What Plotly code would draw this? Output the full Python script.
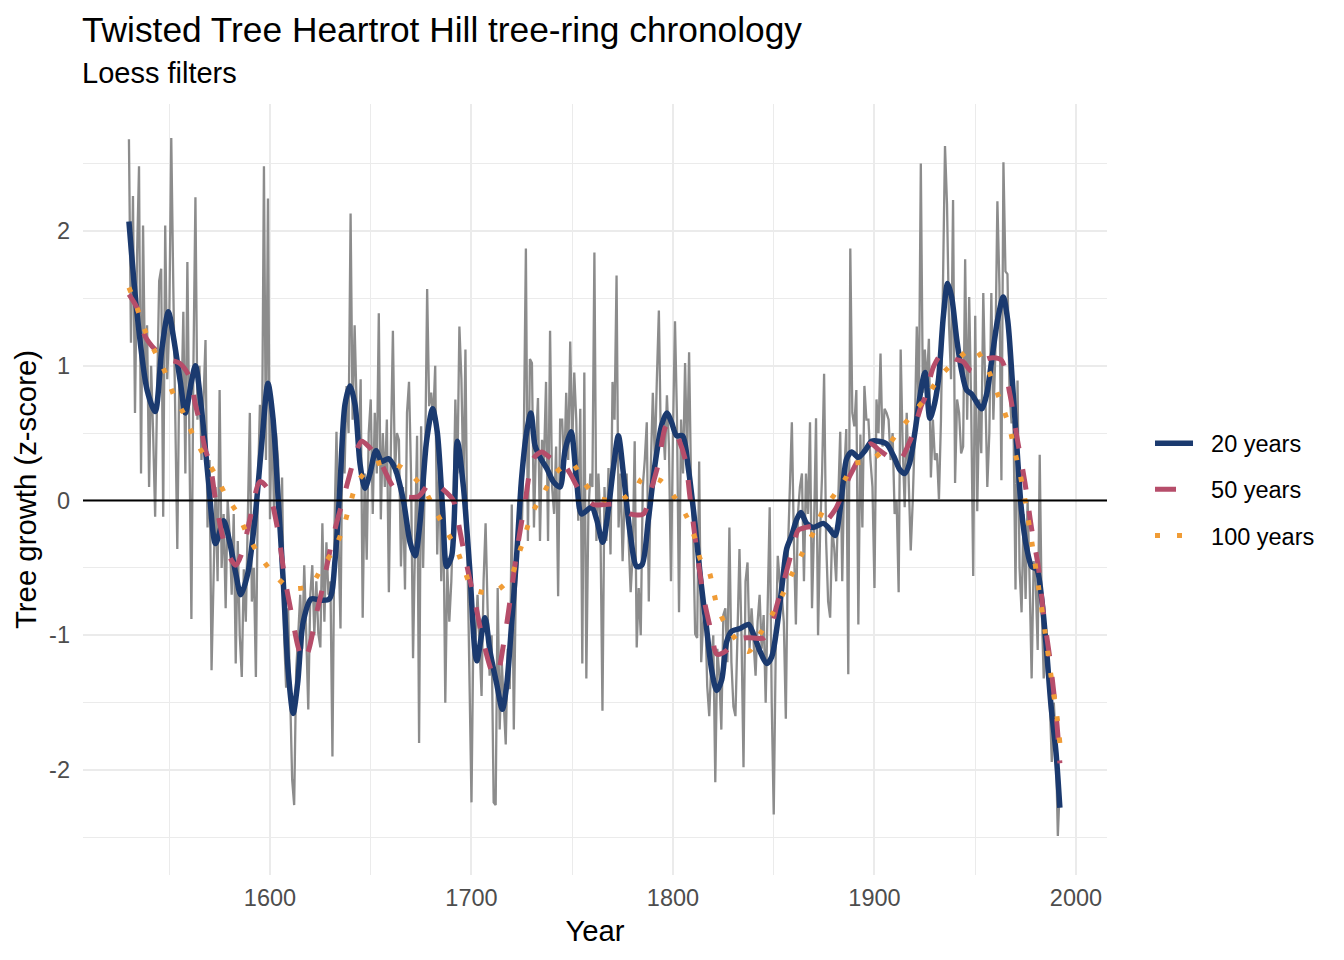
import plotly.graph_objects as go

# ---- data ----
first_year = 1530

# annual tree-ring index (z-score), one row per decade
ring_index = [
    2.68, 1.17, 2.26, 0.65, 1.80, 2.48, 0.20, 2.04, 0.90, 1.30,          # 1530s
    0.10, 1.00, 0.50, -0.12, 0.80, 1.63, 1.72, -0.12, 2.04, 0.90,        # 1540s
    1.30, 2.69, 1.60, 0.60, -0.36, 0.95, 0.65, 1.40, 0.20, 1.77,         # 1550s
    0.50, -0.88, 1.00, 2.25, 0.60, 1.00, 0.30, 0.70, 1.19, -0.20,        # 1560s
    0.30, -1.26, -0.50, 0.10, -0.60, 0.82, -0.50, -0.10, -0.80, 0.00,    # 1570s
    -0.25, -0.70, -0.10, -1.21, -0.30, -1.00, -1.31, -0.51, -0.90, -0.20,  # 1580s
    0.65, -0.75, -0.50, -1.31, 0.10, 0.71, 0.30, 2.48, 0.30, 2.24,       # 1590s
    -0.14, 0.71, -0.10, 0.50, 0.30, -0.30, 0.17, -1.00, -1.39, -0.80,    # 1600s
    -1.56, -2.07, -2.26, -1.26, -1.00, -0.70, -1.10, -0.48, -1.00, -1.55,  # 1610s
    -0.70, -0.48, -1.00, -0.60, -0.99, -1.09, -0.17, -0.90, -0.31, -0.70,  # 1620s
    -0.60, -1.90, -0.20, 0.51, -0.30, -0.95, 0.61, 0.20, 0.85, 0.50,     # 1630s
    2.13, 0.60, 1.30, 0.70, 0.34, 0.90, -0.87, 0.20, -0.44, 0.50,        # 1640s
    0.75, -0.10, 0.65, 0.20, 1.39, -0.14, 0.50, 0.10, 0.60, -0.68,       # 1650s
    0.40, 1.26, 0.20, 0.50, 0.45, -0.49, 0.10, -0.66, 0.65, 0.88,        # 1660s
    0.20, -1.17, -0.30, 0.48, -1.80, 0.55, -0.50, 0.30, 1.57, 0.70,      # 1670s
    0.80, 0.60, 1.00, -0.40, 0.30, -0.60, 0.00, -1.50, -0.50, -0.90,     # 1680s
    -0.60, -0.10, 0.75, 0.20, 1.29, 0.90, 0.10, 1.12, -0.40, -1.20,      # 1690s
    -2.24, -0.90, -1.05, -0.70, -1.10, -1.45, -0.60, -0.17, -0.80, -1.30,  # 1700s
    -1.00, -2.24, -2.26, -0.65, -1.70, -1.19, -1.50, -1.81, -1.10, -1.40,  # 1710s
    -0.03, -1.70, -0.65, -0.40, 0.10, -0.20, 0.50, 1.87, -0.30, 1.05,    # 1720s
    1.02, -0.20, 0.40, 0.76, -0.30, 0.45, 0.30, 0.88, -0.30, 1.26,       # 1730s
    0.10, -0.10, 0.40, -0.71, 0.60, 0.60, 0.20, 0.80, 0.30, 1.18,        # 1740s
    0.40, 0.95, 0.60, -0.15, 0.68, -1.21, 0.95, -1.32, -0.10, 0.20,      # 1750s
    0.10, 1.84, -0.30, 0.20, -0.20, -1.56, 0.10, -0.30, 0.24, -0.40,     # 1760s
    0.88, 0.60, 1.67, -0.20, 0.20, -0.45, 0.00, 0.20, -0.30, -0.68,      # 1770s
    -0.40, 0.44, -1.09, -0.65, -1.00, 0.10, 0.30, 0.58, -0.75, 0.24,     # 1780s
    0.80, 0.30, 0.90, 1.41, 0.40, 0.60, 0.30, 0.78, 0.40, -0.60,         # 1790s
    0.50, 1.33, 0.60, -0.83, 0.60, 0.20, 1.02, 0.30, 1.10, 0.10,         # 1800s
    -0.20, -0.99, -1.02, 0.29, -1.20, -0.90, -0.80, -1.38, -1.60, -1.20,   # 1810s
    -1.00, -2.09, -1.10, -1.30, -1.70, -0.85, -0.80, -1.20, -0.20, -1.20,  # 1820s
    -1.53, -1.60, -1.00, -0.36, -1.00, -1.98, -0.60, -0.46, -1.10, -0.80,  # 1830s
    -1.05, -1.30, -0.90, -0.70, -1.10, -0.85, -1.50, -0.80, -0.05, -1.50,  # 1840s
    -2.33, -1.10, -0.41, -0.60, -0.70, -0.90, -1.62, -0.40, 0.20, 0.58,  # 1850s
    -0.30, -0.92, -0.10, 0.10, 0.20, -0.60, 0.20, -0.10, 0.58, -0.80,    # 1860s
    -0.20, 0.61, -1.00, -0.25, 0.20, 0.94, -0.30, -0.75, -0.87, -0.20,   # 1870s
    -0.35, -0.60, 0.00, 0.51, -0.60, 0.20, 0.53, -1.29, 1.87, 0.65,      # 1880s
    0.55, 0.82, -0.92, 0.49, -0.20, 0.85, 0.60, 0.60, 0.30, 0.10,        # 1890s
    -0.65, 0.75, 0.50, 1.09, 0.40, 0.68, 0.65, 0.60, 0.30, 0.50,         # 1900s
    -0.10, 0.00, -0.68, 1.12, 0.40, -0.05, 0.65, 0.10, -0.37, 0.00,      # 1910s
    0.50, 1.29, 0.65, 2.50, 0.80, 1.12, 0.85, 1.20, 0.17, 0.60,          # 1920s
    0.30, 0.35, 0.01, 0.60, 1.80, 2.63, 2.20, 1.30, 0.90, 2.23,          # 1930s
    0.13, 0.75, 0.65, 0.35, 0.40, 1.79, 0.60, 1.51, 0.70, -0.56,         # 1940s
    1.37, -0.08, 0.75, 0.35, 1.54, 0.80, 0.10, 0.50, 1.54, 0.60,         # 1950s
    1.10, 2.22, 1.60, 0.15, 2.51, 1.70, 1.68, 0.82, 0.58, 0.58,          # 1960s
    -0.66, 0.89, -0.50, -0.83, -0.10, -0.73, 0.00, -0.60, -1.32, -0.45,  # 1970s
    -0.60, -1.11, 0.34, -0.80, -1.32, -1.10, -1.25, -1.50, -1.94, -1.50,   # 1980s
    -1.80, -2.49, -2.10,                                                 # 1990s
]
ring_years = [first_year + i for i in range(len(ring_index))]

# 20-year loess curve
loess20_years = [1530, 1534, 1539, 1543, 1546.3, 1549.6, 1552, 1555.5, 1558, 1561, 1563, 1566,
                 1569.5, 1573, 1577, 1580, 1583, 1585.5, 1589, 1592.5, 1596, 1599, 1601.5, 1604,
                 1606.5, 1609, 1611.5, 1613.7, 1616.5, 1620.5, 1625, 1629.5, 1632.3, 1634.7,
                 1637.2, 1639.7, 1642.2, 1644.7, 1647.1, 1649.6, 1652.6, 1655.4, 1658.7, 1662,
                 1666.2, 1669.5, 1672, 1674.4, 1677.7, 1680.7, 1683, 1685.7, 1687.7, 1690.2, 1693,
                 1696, 1699, 1702.6, 1706.7, 1709.2, 1712.5, 1715.3, 1717.4, 1719.9, 1722.4,
                 1724.9, 1727.4, 1729.5, 1731.5, 1734, 1737.3, 1740.6, 1743.9, 1746.4, 1749.4,
                 1752.2, 1754.7, 1759.6, 1762.1, 1765.1, 1767.9, 1770.4, 1772.9, 1775.4, 1778.7,
                 1782, 1784.5, 1787.8, 1791.1, 1794.4, 1796.9, 1799.3, 1801.8, 1804.8, 1807.6,
                 1810.9, 1813.7, 1816.7, 1819.2, 1821.7, 1824.2, 1826.6, 1829.1, 1833.3, 1837.4,
                 1839.9, 1843.2, 1846.5, 1849, 1851.5, 1854.3, 1856.4, 1858.9, 1861.4, 1863.5,
                 1866.3, 1869.6, 1874.6, 1877.1, 1880.4, 1882.9, 1884.5, 1886.2, 1888.7, 1892,
                 1895.3, 1898.6, 1902, 1906, 1909.5, 1912.5, 1915, 1917.5, 1920.1,
                 1923.4, 1925.1, 1927.5, 1929.2, 1931.7, 1934.2, 1936.3, 1938.3, 1940.8, 1943.3,
                 1945.7, 1948.2, 1950.7, 1953.2, 1955.7, 1958.1, 1961.1, 1963.9, 1966.1, 1968.4,
                 1970.6, 1973, 1975.5, 1978, 1980.5, 1983, 1985.4, 1987.6, 1990.1, 1992]
loess20 = [2.07, 1.39, 0.82, 0.66, 1.12, 1.40, 1.22, 0.88, 0.65, 0.88, 1.00, 0.68,
           0.14, -0.32, -0.15, -0.31, -0.54, -0.70, -0.54, -0.14, 0.44, 0.87, 0.61, 0.03,
           -0.58, -1.26, -1.58, -1.36, -0.90, -0.73, -0.74, -0.73, -0.44, 0.10,
           0.71, 0.85, 0.71, 0.27, 0.09, 0.20, 0.37, 0.29, 0.31, 0.24,
           0.00, -0.31, -0.41, -0.17, 0.44, 0.68, 0.51, -0.07, -0.49, -0.41, 0.44,
           0.10, -0.48, -1.19, -0.87, -1.12, -1.36, -1.55, -1.38, -0.92, -0.41,
           0.17, 0.51, 0.65, 0.41, 0.32, 0.24, 0.14, 0.10, 0.37, 0.51,
           0.14, -0.10, -0.05, -0.14, -0.31, -0.07, 0.24, 0.48, 0.20, -0.24,
           -0.49, -0.48, -0.14, 0.27, 0.56, 0.65, 0.58, 0.48, 0.48, 0.24,
           -0.17, -0.58, -0.95, -1.26, -1.41, -1.33, -1.05, -0.97, -0.95, -0.92,
           -0.99, -1.12, -1.21, -1.16, -0.95, -0.61, -0.36, -0.26, -0.14, -0.09,
           -0.17, -0.20, -0.17, -0.20, -0.26, -0.07, 0.14, 0.31, 0.36, 0.32,
           0.37, 0.44, 0.44, 0.42, 0.33, 0.23, 0.20, 0.28, 0.51,
           0.85, 0.95, 0.61, 0.68, 0.89, 1.37, 1.61, 1.51, 1.20, 0.96,
           0.82, 0.79, 0.73, 0.68, 0.79, 1.03, 1.34, 1.51, 1.34, 0.89,
           0.41, -0.08, -0.35, -0.49, -0.51, -0.73, -1.11, -1.52, -1.87, -2.28]

# 50-year loess curve
loess50_years = [1530, 1534, 1538, 1543, 1549, 1555, 1560, 1563, 1565, 1568, 1570, 1573, 1576.5,
                 1579, 1583, 1586.5, 1590, 1595, 1598.3, 1600.8, 1604.1, 1607.4, 1610.8, 1614,
                 1616.5, 1619, 1623.2, 1625.6, 1629.8, 1633, 1635.6, 1639.7, 1643, 1645.5, 1649,
                 1654.6, 1661.2, 1667, 1673.6, 1680.2, 1686, 1691, 1692.6, 1696, 1700.1, 1701.7,
                 1705.9, 1710.8, 1712.5, 1716.6, 1720, 1723.2, 1726.5, 1730.7, 1734.8, 1739.8,
                 1744.7, 1748.9, 1753.8, 1760.5, 1766, 1772, 1778.7, 1785.3, 1788.6, 1792.7,
                 1796.9, 1801, 1806, 1808.4, 1811.8, 1815.1, 1819.2, 1821.7, 1826, 1830.8, 1835,
                 1840, 1845, 1849, 1851.5, 1854.8, 1859.7, 1862.2, 1866, 1874.6, 1880.4, 1885.4,
                 1888, 1897.8, 1902.7, 1911.8, 1917.6, 1923.4, 1925, 1929.5, 1934.2, 1940, 1944,
                 1948.2, 1954, 1959, 1963.1, 1967.2, 1970.6, 1974.7, 1978, 1981.3, 1983.8, 1987.1,
                 1990.4, 1992]
loess50 = [1.53, 1.43, 1.22, 1.12, 1.05, 1.02, 0.92, 0.71, 0.59, 0.37, 0.29, 0.00, -0.27,
           -0.39, -0.48, -0.37, -0.14, 0.14, 0.10, 0.00, -0.24, -0.58, -0.85, -1.09,
           -1.19, -1.12, -0.83, -0.68, -0.37, -0.17, -0.03, 0.20, 0.37, 0.44, 0.40,
           0.29, 0.10, 0.03, 0.03, 0.14, 0.08, 0.00, -0.10, -0.36, -0.65, -0.75,
           -1.05, -1.29, -1.30, -1.00, -0.65, -0.31, -0.02, 0.31, 0.36, 0.31,
           0.29, 0.20, 0.07, -0.03, -0.03, -0.03, -0.10, -0.10, 0.05, 0.27,
           0.56, 0.51, 0.31, 0.03, -0.37, -0.71, -0.99, -1.14, -1.12, -1.04, -1.02,
           -1.02, -1.02, -0.92, -0.78, -0.61, -0.34, -0.22, -0.20, -0.17, -0.07, 0.10,
           0.19, 0.42, 0.37, 0.29, 0.44, 0.71, 0.76, 1.00, 1.10, 1.05, 1.03,
           0.96, 1.04, 1.06, 1.04, 0.79, 0.48, 0.13, -0.21, -0.49, -0.83, -1.18,
           -1.63, -1.95]

# 100-year loess curve
loess100_years = [1530, 1534, 1538, 1543, 1548, 1552, 1557, 1562, 1567, 1573, 1578, 1584, 1589,
                  1594, 1601, 1610, 1620, 1626, 1632, 1636.4, 1639.7, 1643.5, 1651.3, 1658.7,
                  1668.6, 1676.1, 1681.9, 1686.9, 1692.6, 1696.8, 1700.9, 1710.8, 1719.1, 1723.2,
                  1726.5, 1729.9, 1735.6, 1741.4, 1749.7, 1755.5, 1763, 1773.7, 1782, 1784.5,
                  1793.5, 1801, 1806.8, 1810.9, 1813.7, 1817.5, 1821.7, 1826.1, 1837.4, 1843.2,
                  1849.8, 1854.3, 1859.2, 1864.2, 1869.6, 1874.3, 1880.4, 1885.9, 1888.7, 1897,
                  1905.7, 1911.8, 1919.3, 1925.9, 1932.5, 1940, 1949.1, 1955.7, 1959.8, 1964,
                  1967.2, 1969.7, 1972.2, 1974.4, 1978, 1981.3, 1984.6, 1987.6, 1990.9, 1992]
loess100 = [1.58, 1.43, 1.26, 1.10, 0.95, 0.79, 0.65, 0.48, 0.34, 0.19, 0.04, -0.10, -0.26,
            -0.39, -0.53, -0.65, -0.63, -0.49, -0.36, -0.20, -0.03, 0.14, 0.26, 0.29,
            0.21, 0.09, -0.07, -0.21, -0.36, -0.53, -0.66, -0.68, -0.58, -0.41,
            -0.26, -0.10, 0.05, 0.20, 0.28, 0.14, 0.02, 0.00, 0.10, 0.16,
            0.15, 0.02, -0.12, -0.28, -0.44, -0.51, -0.77, -0.92, -1.12, -0.99,
            -0.83, -0.70, -0.54, -0.39, -0.24, -0.08, 0.05, 0.17, 0.27, 0.29,
            0.39, 0.51, 0.65, 0.77, 0.92, 1.03, 1.13, 0.99, 0.84, 0.68,
            0.53, 0.36, 0.20, 0.03, -0.30, -0.63, -0.97, -1.30, -1.64, -1.80]

x_ticks = [1600, 1700, 1800, 1900, 2000]
x_minor = [1550, 1650, 1750, 1850, 1950]
y_ticks = [-2, -1, 0, 1, 2]
y_tick_labels = ["-2", "-1", "0", "1", "2"]
y_minor = [-2.5, -1.5, -0.5, 0.5, 1.5, 2.5]

FONT = "Liberation Sans, Arial, Helvetica, sans-serif"
GRID = "#EBEBEB"
PAD = "\u00a0\u00a0"   # gap between legend key and label, as in the original

fig = go.Figure()

fig.add_trace(go.Scatter(x=ring_years, y=ring_index, mode="lines",
                         line=dict(color="#8C8C8C", width=2.3),
                         showlegend=False, hoverinfo="skip"))

fig.add_trace(go.Scatter(x=loess20_years, y=loess20, mode="lines", name=PAD + "20 years",
                         legendgroup="a",
                         line=dict(color="#1B3A6F", width=5.5, shape="spline", smoothing=0.8)))
fig.add_trace(go.Scatter(x=loess50_years, y=loess50, mode="lines", name=PAD + "50 years",
                         legendgroup="b",
                         line=dict(color="#B64D6A", width=5, dash="21px,21px",
                                   shape="spline", smoothing=0.8)))
fig.add_trace(go.Scatter(x=loess100_years, y=loess100, mode="lines", name=PAD + "100 years",
                         legendgroup="c",
                         line=dict(color="#F09C36", width=5, dash="5px,17px",
                                   shape="spline", smoothing=0.8)))

# zero reference line across the panel
fig.add_shape(type="line", xref="paper", yref="y", x0=0, x1=1, y0=0, y1=0,
              line=dict(color="black", width=2.2), layer="above")

# the page body adds an 8px offset, so the margins are set 8px smaller on the top/left
fig.update_layout(
    width=1344, height=960,
    margin=dict(l=75, r=245, t=96, b=93, autoexpand=False),
    plot_bgcolor="white", paper_bgcolor="white",
    font=dict(family=FONT, color="black"),
    showlegend=True,
    legend=dict(x=1.042, xanchor="left", y=0.50, yanchor="middle",
                font=dict(size=23.5, color="black"), tracegroupgap=12.5,
                itemwidth=38, bgcolor="rgba(0,0,0,0)"),
    annotations=[
        dict(text="Twisted Tree Heartrot Hill tree-ring chronology", xref="paper", yref="paper",
             x=-0.003, y=1.096, xanchor="left", yanchor="middle", showarrow=False,
             font=dict(size=35.3, color="black")),
        dict(text="Loess filters", xref="paper", yref="paper",
             x=-0.003, y=1.040, xanchor="left", yanchor="middle", showarrow=False,
             font=dict(size=29, color="black")),
    ],
)

fig.update_xaxes(range=[1507.2, 2015.4], tickmode="array", tickvals=x_ticks, automargin=False,
                 showgrid=True, gridcolor=GRID, gridwidth=2,
                 minor=dict(tickmode="array", tickvals=x_minor, showgrid=True,
                            gridcolor=GRID, gridwidth=1.2),
                 zeroline=False, showline=False, ticks="",
                 tickfont=dict(size=23.5, color="#4D4D4D"), ticklabelstandoff=6,
                 title=dict(text="Year", font=dict(size=29.3, color="black"), standoff=10))

fig.update_yaxes(range=[-2.779, 2.942], tickmode="array", tickvals=y_ticks,
                 ticktext=y_tick_labels, automargin=False,
                 showgrid=True, gridcolor=GRID, gridwidth=2,
                 minor=dict(tickmode="array", tickvals=y_minor, showgrid=True,
                            gridcolor=GRID, gridwidth=1.2),
                 zeroline=False, showline=False, ticks="",
                 tickfont=dict(size=23.5, color="#4D4D4D"), ticklabelstandoff=12,
                 title=dict(text="Tree growth (z-score)", font=dict(size=29.3, color="black"),
                            standoff=3))

fig.write_html("out.html")
